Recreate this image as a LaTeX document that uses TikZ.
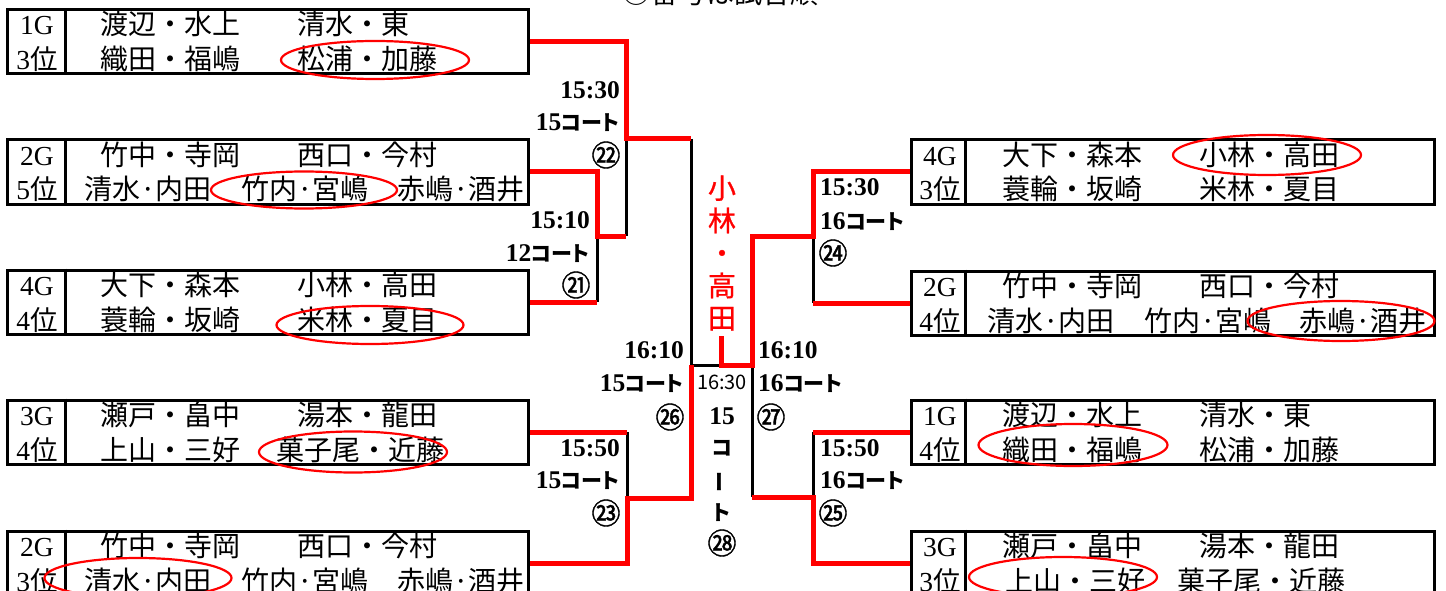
\documentclass[tikz,border=0pt]{standalone}
\usepackage{fontspec}
\setmainfont{Liberation Serif}
\newfontfamily\jp{Noto Sans CJK JP}
\newfontfamily\jpc[FakeBold=1.3]{Noto Sans CJK JP}
\newfontfamily\jpr[FakeBold=0.8]{Noto Sans CJK JP}
\newfontfamily\jpp[RawFeature=+palt]{Noto Sans CJK JP}
\usetikzlibrary{shapes.geometric}
\newcommand{\Kcourt}{{\jpp\bfseries\fontsize{21pt}{24pt}\selectfont コート}}
\begin{document}
\begin{tikzpicture}[x=1pt,y=-1pt,
  box/.style={draw,line width=3pt,minimum height=64pt,inner sep=0pt},
  lbox/.style={box,minimum width=521pt},
  rbox/.style={box,minimum width=522.5pt},
  conn/.style={draw=black,line width=3pt},
  win/.style={draw=red,line width=5pt},
  oval/.style={ellipse,draw=red,line width=2.2pt,inner sep=0pt},
  nm/.style={font=\jp\fontsize{28pt}{30pt}\selectfont,anchor=base west,inner sep=0pt},
  gp/.style={font=\fontsize{27.5pt}{29pt}\selectfont,anchor=base,inner sep=0pt},
  tl/.style={font=\bfseries\fontsize{25.5pt}{27pt}\selectfont,inner sep=0pt},
  tle/.style={tl,anchor=base east},
  tlw/.style={tl,anchor=base west},
  cn/.style={font=\jpc\fontsize{29pt}{31pt}\selectfont,inner sep=0pt,anchor=center},
  vc/.style={font=\jpp\bfseries\fontsize{21pt}{24pt}\selectfont,inner sep=0pt,anchor=center},
]
\useasboundingbox (0,0) rectangle (1446,591);

% note at top (mostly cut off)
\node[font=\jp\fontsize{28pt}{30pt}\selectfont,anchor=base,inner sep=0pt] (note) at (720,4) {○番号は試合順};

% ---------- boxes ----------
\node[lbox] (L1) at (267.5,42) {};
\node[lbox] (L2) at (267.5,172) {};
\node[lbox] (L3) at (267.5,302) {};
\node[lbox] (L4) at (267.5,432) {};
\node[lbox] (L5) at (267.5,563) {};
\node[rbox] (R1) at (1172.75,172) {};
\node[rbox] (R2) at (1172.75,303) {};
\node[rbox] (R3) at (1172.75,432) {};
\node[rbox] (R4) at (1172.75,563) {};
\foreach \b in {L1,L2,L3,L4,L5}
  \draw[conn] ([xshift=60pt]\b.north west) -- ([xshift=60pt]\b.south west);
\foreach \b in {R1,R2,R3,R4}
  \draw[conn] ([xshift=55pt]\b.north west) -- ([xshift=55pt]\b.south west);

% ---------- box texts, left ----------
\node[gp] (L1g) at (37,35) {1G};  \node[gp] (L1r) at (37,70) {3{\jp 位}};
\node[nm] (L1a) at (100,35) {渡辺・水上}; \node[nm] (L1b) at (297,35) {清水・東};
\node[nm] (L1c) at (100,70) {織田・福嶋}; \node[nm] (L1d) at (297,70) {松浦・加藤};

\node[gp] (L2g) at (37,165) {2G};  \node[gp] (L2r) at (37,200) {5{\jp 位}};
\node[nm] (L2a) at (100,165) {竹中・寺岡}; \node[nm] (L2b) at (297,165) {西口・今村};
\node[nm] (L2c) at (84,200) {清水·内田}; \node[nm] (L2d) at (241,200) {竹内·宮嶋}; \node[nm] (L2e) at (397,200) {赤嶋·酒井};

\node[gp] (L3g) at (37,295) {4G};  \node[gp] (L3r) at (37,330) {4{\jp 位}};
\node[nm] (L3a) at (100,295) {大下・森本}; \node[nm] (L3b) at (297,295) {小林・高田};
\node[nm] (L3c) at (100,330) {蓑輪・坂崎}; \node[nm] (L3d) at (297,330) {米林・夏目};

\node[gp] (L4g) at (37,425) {3G};  \node[gp] (L4r) at (37,460) {4{\jp 位}};
\node[nm] (L4a) at (100,425) {瀬戸・畠中}; \node[nm] (L4b) at (297,425) {湯本・龍田};
\node[nm] (L4c) at (100,460) {上山・三好}; \node[nm] (L4d) at (276,460) {菓子尾・近藤};

\node[gp] (L5g) at (37,556) {2G};  \node[gp] (L5r) at (37,591) {3{\jp 位}};
\node[nm] (L5a) at (100,556) {竹中・寺岡}; \node[nm] (L5b) at (297,556) {西口・今村};
\node[nm] (L5c) at (84,591) {清水·内田}; \node[nm] (L5d) at (241,591) {竹内·宮嶋}; \node[nm] (L5e) at (397,591) {赤嶋·酒井};

% ---------- box texts, right ----------
\node[gp] (R1g) at (940,165) {4G};  \node[gp] (R1r) at (940,200) {3{\jp 位}};
\node[nm] (R1a) at (1002,165) {大下・森本}; \node[nm] (R1b) at (1199,165) {小林・高田};
\node[nm] (R1c) at (1002,200) {蓑輪・坂崎}; \node[nm] (R1d) at (1199,200) {米林・夏目};

\node[gp] (R2g) at (940,296) {2G};  \node[gp] (R2r) at (940,331) {4{\jp 位}};
\node[nm] (R2a) at (1002,296) {竹中・寺岡}; \node[nm] (R2b) at (1199,296) {西口・今村};
\node[nm] (R2c) at (987,331) {清水·内田}; \node[nm] (R2d) at (1144,331) {竹内·宮嶋}; \node[nm] (R2e) at (1299,331) {赤嶋·酒井};

\node[gp] (R3g) at (940,425) {1G};  \node[gp] (R3r) at (940,460) {4{\jp 位}};
\node[nm] (R3a) at (1002,425) {渡辺・水上}; \node[nm] (R3b) at (1199,425) {清水・東};
\node[nm] (R3c) at (1002,460) {織田・福嶋}; \node[nm] (R3d) at (1199,460) {松浦・加藤};

\node[gp] (R4g) at (940,556) {3G};  \node[gp] (R4r) at (940,591) {3{\jp 位}};
\node[nm] (R4a) at (1002,556) {瀬戸・畠中}; \node[nm] (R4b) at (1199,556) {湯本・龍田};
\node[nm] (R4c) at (1005,591) {上山・三好}; \node[nm] (R4d) at (1177,591) {菓子尾・近藤};

% ---------- ellipses ----------
\node[oval,minimum width=188pt,minimum height=38pt] (eL1) at (375,60) {};
\node[oval,minimum width=186pt,minimum height=37pt] (eL2) at (304,190) {};
\node[oval,minimum width=187pt,minimum height=38pt] (eL3) at (370,325) {};
\node[oval,minimum width=188pt,minimum height=41pt] (eL4) at (353,452) {};
\node[oval,minimum width=187pt,minimum height=40pt] (eL5) at (138,578) {};
\node[oval,minimum width=188pt,minimum height=40pt] (eR1) at (1267,155) {};
\node[oval,minimum width=187pt,minimum height=40pt] (eR2) at (1341,321) {};
\node[oval,minimum width=189pt,minimum height=42pt] (eR3) at (1073,445) {};
\node[oval,minimum width=188pt,minimum height=40pt] (eR4) at (1063,577) {};

% ---------- junctions ----------
\coordinate (m22) at (626,139);
\coordinate (m22b) at (626,236);
\coordinate (m21) at (597,236);
\coordinate (m26) at (691,139);
\coordinate (fL) at (691,365);
\coordinate (fR) at (752,365);
\coordinate (c0) at (721,336);
\coordinate (c1) at (721,365);
\coordinate (m27t) at (752,236);
\coordinate (m24) at (813,236);
\coordinate (m26b) at (691,498);
\coordinate (m23) at (627,498);
\coordinate (m27b) at (752,497);
\coordinate (m25) at (813,497);

% ---------- black connectors ----------
\draw[conn] (m22) -- (m22b);
\draw[conn] (m21) -- (m21 |- L3.east);
\draw[conn] (m26) -- (fL) -- (fR) -- (m27b);
\draw[conn] (m24) -- (m24 |- R2.west);
\draw[conn] (m23 |- L4.east) -- (m23);
\draw[conn] (m25 |- R3.west) -- (m25);

% ---------- red (winning) connectors ----------
\draw[win] (L1.east) -| (m22) -- (m26);
\draw[win] (L2.east) -| (m21) -- (m22b);
\draw[win] (L3.east) -- (m21 |- L3.east);
\draw[win] (c0) -- (c1) -- (fR) -- (m27t) -- (m24) |- (R1.west);
\draw[win] (R2.west) -- (m24 |- R2.west);
\draw[win] (fL) -- (m26b) -- (m23) |- (L5.east);
\draw[win] (L4.east) -- (m23 |- L4.east);
\draw[win] (m27b) -- (m25) |- (R4.west);
\draw[win] (R3.west) -- (m25 |- R3.west);

% ---------- match labels, left ----------
\node[tle] (t22) at (620,98.5) {15:30};
\node[tle] (k22) at (620,131) {15\Kcourt};
\node[cn] (n22) at (606,155) {㉒};
\node[tle] (t21) at (590,228) {15:10};
\node[tle] (k21) at (590,261) {12\Kcourt};
\node[cn] (n21) at (576,285) {㉑};
\node[tle] (t26) at (684,358) {16:10};
\node[tle] (k26) at (684,391) {15\Kcourt};
\node[cn] (n26) at (670,417) {㉖};
\node[tle] (t23) at (620,456) {15:50};
\node[tle] (k23) at (620,488) {15\Kcourt};
\node[cn] (n23) at (606,513) {㉓};

% ---------- match labels, right ----------
\node[tlw] (t24) at (820,196) {15:30};
\node[tlw] (k24) at (820,229) {16\Kcourt};
\node[cn] (n24) at (833,253) {㉔};
\node[tlw] (t27) at (758,358) {16:10};
\node[tlw] (k27) at (758,391) {16\Kcourt};
\node[cn] (n27) at (771,417) {㉗};
\node[tlw] (t25) at (820,456) {15:50};
\node[tlw] (k25) at (820,488) {16\Kcourt};
\node[cn] (n25) at (833,513) {㉕};

% ---------- final ----------
\node[font=\jpr\fontsize{28pt}{32.5pt}\selectfont,text=red,align=center,inner sep=0pt] (champ) at (722,253) {小\\林\\・\\高\\田};
\node[font=\jp\fontsize{20pt}{22pt}\selectfont,inner sep=0pt,anchor=center] (t28) at (722,382) {16:30};
\node[tl,anchor=center] (k28a) at (722,416) {15};
\node[vc] (k28b) at (722,448) {コ};
\node[vc,rotate=90] (k28c) at (722,482) {ー};
\node[vc] (k28d) at (722,513) {ト};
\node[cn] (n28) at (722,543) {㉘};
\end{tikzpicture}
\end{document}
